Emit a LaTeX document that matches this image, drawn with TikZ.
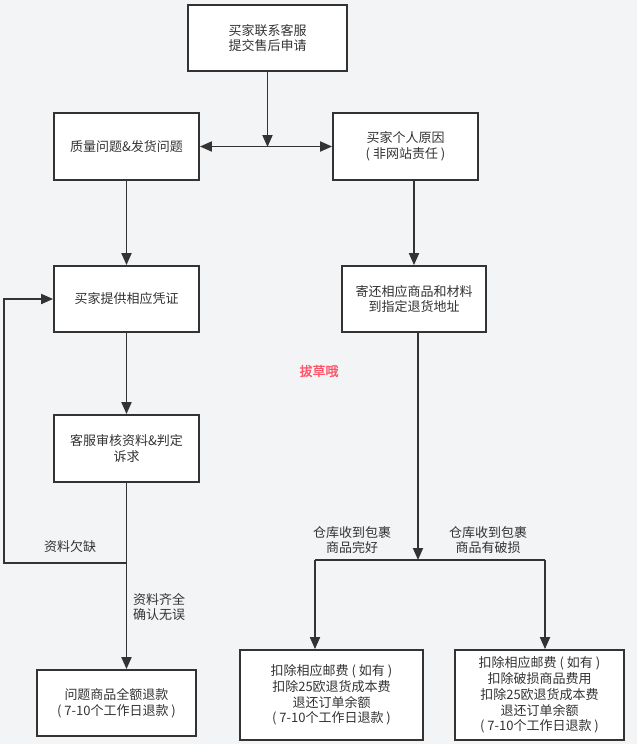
\documentclass[tikz,border=0pt]{standalone}
\usepackage{fontspec}
\setmainfont{Noto Sans CJK SC}
\newfontfamily\wmfont[FakeBold=1.5]{Noto Sans CJK SC}
\usetikzlibrary{arrows.meta}
\definecolor{bg}{HTML}{F3F4F6}
\definecolor{ink}{HTML}{333333}
\definecolor{wm}{HTML}{FF5468}
\tikzset{
  box/.style={draw=ink, line width=1.8pt, fill=white, text=ink, align=center, inner sep=0pt,
    font=\fontsize{13pt}{15.8pt}\selectfont},
  conn/.style={draw=ink, line width=1.8pt},
  arr/.style={conn, -{Triangle[length=12pt,width=10pt]}},
  darr/.style={conn, {Triangle[length=12pt,width=10pt]}-{Triangle[length=12pt,width=10pt]}},
  lbl/.style={text=ink, inner sep=0pt, font=\fontsize{13pt}{15.8pt}\selectfont}
}
\begin{document}
\begin{tikzpicture}[x=1pt,y=-1pt]
\fill[bg] (0,0) rectangle (637,744);
\useasboundingbox (0,0) rectangle (637,744);

\node[box, minimum width=159pt, minimum height=66pt] (b1) at (267.5,38) {买家联系客服\\提交售后申请};
\node[box, minimum width=145pt, minimum height=67pt] (b2) at (126.5,146.5) {质量问题\&发货问题};
\node[box, minimum width=145pt, minimum height=67pt] (b3) at (405.5,146.5) {买家个人原因\\( 非网站责任 )};
\node[box, minimum width=145pt, minimum height=66pt] (b4) at (126.5,299) {买家提供相应凭证};
\node[box, minimum width=144pt, minimum height=66pt] (b5) at (414,299) {寄还相应商品和材料\\到指定退货地址};
\node[box, minimum width=145pt, minimum height=67pt] (b6) at (126.5,448.5) {客服审核资料\&判定\\诉求};
\node[box, minimum width=159pt, minimum height=66pt] (b7) at (116.5,703) {问题商品全额退款\\( 7-10个工作日退款 )};
\node[box, minimum width=183pt, minimum height=90pt] (b8) at (331.5,695) {扣除相应邮费 ( 如有 )\\扣除25欧退货成本费\\退还订单余额\\( 7-10个工作日退款 )};
\node[box, minimum width=169pt, minimum height=90pt] (b9) at (539.5,695) {扣除相应邮费 ( 如有 )\\扣除破损商品费用\\扣除25欧退货成本费\\退还订单余额\\( 7-10个工作日退款 )};

\coordinate (j1) at (267.5,147);
\coordinate (j2) at (418,560);
\coordinate (c8) at (315,560);
\coordinate (c9) at (545,560);
\coordinate (f1) at (127,563);
\coordinate (f2) at (4,563);
\coordinate (f3) at (4,299);

\draw[arr] (b1.south) -- (j1);
\draw[darr] (b2.east) -- (b3.west);
\draw[arr] (b2.south) -- (b4.north);
\draw[arr] (b5.north |- b3.south) -- (b5.north);
\draw[arr] (b4.south) -- (b6.north);
\draw[arr] (j2 |- b5.south) -- (j2);
\draw[conn] (c8) -- (c9);
\draw[arr] (c8) -- (c8 |- b8.north);
\draw[arr] (c9) -- (c9 |- b9.north);
\draw[arr] (b6.south) -- (b6.south |- b7.north);
\draw[arr] (f1) -- (f2) -- (f3) -- (b4.west);

\node[lbl] (l1) at (70,547) {资料欠缺};
\node[lbl, anchor=west, align=left] (l2) at (133,607) {资料齐全\\确认无误};
\node[lbl, align=center] (l3) at (352,540) {仓库收到包裹\\商品完好};
\node[lbl, align=center] (l4) at (488,540) {仓库收到包裹\\商品有破损};
\node[text=wm, inner sep=0pt, font=\wmfont\fontsize{13pt}{15pt}\selectfont] (wm) at (319,371) {拔草哦};
\end{tikzpicture}
\end{document}
